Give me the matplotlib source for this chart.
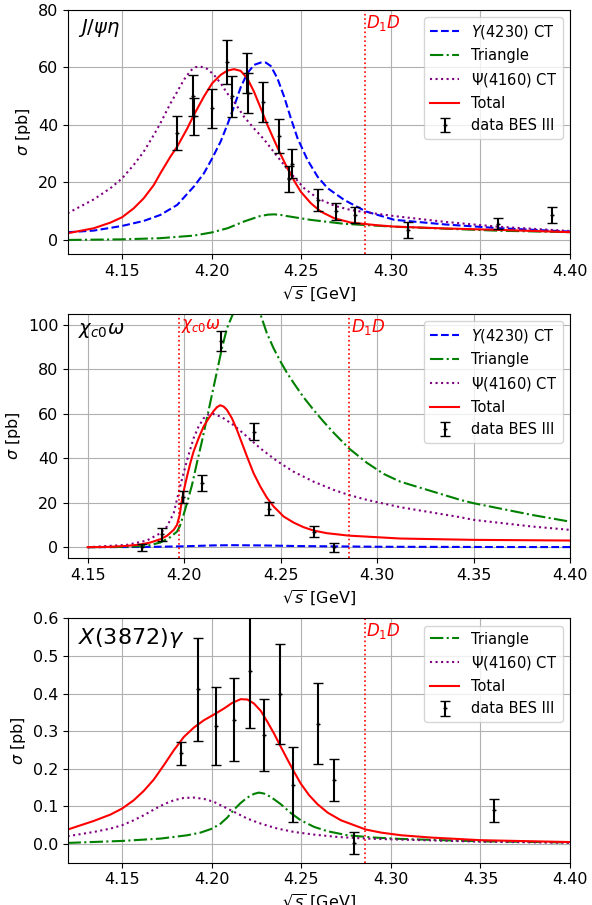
import numpy as np
import matplotlib
matplotlib.use('Agg')
import matplotlib.pyplot as plt

plt.rcParams['font.size'] = 11.5

# thresholds
m_D1D = 4.2856
m_chic0w = 4.1974

# ---- J/psi eta ----
jpe_x = [4.1808, 4.1897, 4.1900, 4.2003, 4.2083, 4.2115, 4.2195, 4.2205, 4.2289,
         4.2376, 4.2434, 4.2449, 4.2591, 4.2693, 4.2799, 4.3094, 4.3600, 4.3899]
jpe_y = [37.1, 50.2, 43.0, 45.8, 61.9, 49.9, 58.2, 51.1, 48.1,
         36.2, 21.1, 26.5, 13.9, 10.0, 8.7, 3.5, 5.6, 8.7]
jpe_err = [5.9, 7.2, 6.5, 6.7, 7.7, 7.0, 7.0, 7.0, 7.0,
           6.0, 4.5, 5.1, 3.7, 3.0, 2.7, 2.9, 1.9, 2.9]

jpe_Y_x = [4.1196, 4.1342, 4.15, 4.1621, 4.1714, 4.1808, 4.1901, 4.1957, 4.2003, 4.205,
           4.2087, 4.2125, 4.2162, 4.2199, 4.2237, 4.2274, 4.2302, 4.233, 4.2367, 4.2404,
           4.2442, 4.2479, 4.2535, 4.2591, 4.2647, 4.274, 4.2861, 4.3019, 4.33, 4.36, 4.40]
jpe_Y_y = [2.67, 3.25, 4.87, 6.61, 8.70, 12.2, 18.6, 23.2, 28.4, 34.2,
           40.0, 46.4, 53.1, 58.0, 60.9, 61.7, 61.7, 60.5, 56.2, 49.9,
           42.3, 35.4, 27.8, 22.0, 18.0, 13.9, 9.9, 7.0, 5.4, 4.1, 2.9]
jpe_tri_x = [4.12, 4.15, 4.171, 4.19, 4.20, 4.209, 4.218, 4.227, 4.2315, 4.235,
             4.2385, 4.242, 4.255, 4.274, 4.302, 4.36, 4.40]
jpe_tri_y = [0.0, 0.2, 0.6, 1.5, 2.6, 4.1, 6.4, 8.3, 8.8, 8.9,
             8.7, 8.3, 7.0, 5.6, 4.6, 3.2, 2.7]
jpe_psi_x = [4.1196, 4.1342, 4.1435, 4.15, 4.1565, 4.1621, 4.1677, 4.1714, 4.177, 4.1808,
             4.1845, 4.1882, 4.191, 4.1938, 4.1975, 4.2013, 4.205, 4.2087, 4.2125, 4.218,
             4.2236, 4.2292, 4.2367, 4.2441, 4.2516, 4.2591, 4.2684, 4.2777, 4.2861,
             4.3019, 4.33, 4.36, 4.40]
jpe_psi_y = [9.28, 14.1, 18.0, 21.4, 26.1, 30.7, 36.5, 40.6, 47.5, 51.6,
             55.7, 58.9, 60.1, 60.3, 59.5, 57.4, 54.5, 51.0, 48.1, 42.9,
             38.8, 35.0, 29.0, 23.2, 18.0, 14.5, 11.9, 10.4, 9.6,
             8.3, 6.3, 4.6, 3.1]
jpe_tot_x = [4.1196, 4.1342, 4.1435, 4.15, 4.1565, 4.1621, 4.1677, 4.1714, 4.177, 4.1808,
             4.1864, 4.1901, 4.1957, 4.2003, 4.205, 4.2087, 4.2125, 4.2162, 4.2199, 4.2236,
             4.2274, 4.2311, 4.2348, 4.2386, 4.2423, 4.246, 4.2497, 4.2553, 4.2609, 4.2684,
             4.2777, 4.2926, 4.3019, 4.33, 4.36, 4.40]
jpe_tot_y = [2.32, 4.06, 6.03, 7.88, 11.0, 14.5, 19.1, 23.2, 29.0, 32.5,
             38.8, 43.5, 49.9, 54.5, 57.4, 58.9, 59.4, 58.8, 56.2, 51.6,
             45.8, 40.0, 34.8, 29.6, 24.9, 20.6, 16.8, 12.8, 9.86, 7.54,
             6.03, 5.1, 4.64, 4.0, 3.5, 2.7]

# ---- chi_c0 omega ----
cw_x = [4.1782, 4.1887, 4.1994, 4.2094, 4.2191, 4.2360, 4.2441, 4.2675, 4.2779]
cw_y = [0.0, 5.8, 22.6, 28.9, 92.9, 52.0, 17.3, 7.0, 0.0]
cw_err = [1.6, 2.8, 2.8, 3.4, 4.5, 3.8, 2.9, 2.5, 2.1]

cw_Y_x = [4.15, 4.18, 4.20, 4.215, 4.225, 4.24, 4.26, 4.30, 4.35, 4.40]
cw_Y_y = [0.0, 0.1, 0.4, 0.8, 0.9, 0.8, 0.5, 0.2, 0.1, 0.05]
cw_tri_x = [4.15, 4.1704, 4.1807, 4.1877, 4.1928, 4.1963, 4.1977, 4.1997, 4.2015, 4.2041,
            4.2066, 4.2092, 4.2118, 4.2144, 4.217, 4.2196, 4.2222, 4.2253, 4.232,
            4.2395, 4.2429, 4.2464, 4.2498, 4.2533, 4.2567, 4.2619, 4.2671, 4.2723,
            4.2775, 4.2854, 4.2947, 4.3034, 4.312, 4.3431, 4.35, 4.3804, 4.40]
cw_tri_y = [0.0, 0.15, 0.6, 2.1, 4.5, 7.0, 9.3, 14.5, 19.8, 28.0,
            37.8, 47.5, 58.0, 68.5, 79.0, 89.5, 98.5, 105.0, 120.0,
            105.0, 96.3, 89.5, 83.8, 78.5, 74.0, 67.5, 61.8, 56.5,
            51.5, 44.5, 38.0, 33.0, 29.5, 21.3, 19.8, 14.5, 11.5]
cw_psi_x = [4.15, 4.1704, 4.1807, 4.1877, 4.1911, 4.1946, 4.1977, 4.1997, 4.2023, 4.2049,
            4.2075, 4.2101, 4.2127, 4.2144, 4.217, 4.2205, 4.2256, 4.2326, 4.2395, 4.2481,
            4.2567, 4.2671, 4.2775, 4.2854, 4.2947, 4.312, 4.3431, 4.35, 4.3804, 4.40]
cw_psi_y = [0.0, 1.05, 3.0, 6.3, 9.3, 15.3, 26.5, 33.3, 41.5, 49.0,
            54.3, 58.0, 59.8, 60.1, 59.5, 58.0, 55.0, 49.8, 44.5, 38.8,
            34.0, 29.5, 25.8, 23.5, 21.3, 18.0, 13.5, 12.3, 9.3, 7.8]
cw_tot_x = [4.15, 4.1617, 4.1704, 4.1773, 4.1825, 4.1877, 4.1911, 4.1946, 4.1963, 4.1977,
            4.1989, 4.2001, 4.2015, 4.2032, 4.2049, 4.2075, 4.2101, 4.2127, 4.2153, 4.217,
            4.2187, 4.2205, 4.2222, 4.2248, 4.2274, 4.23, 4.2326, 4.236, 4.2395, 4.2429,
            4.2464, 4.2516, 4.2567, 4.2619, 4.2671, 4.274, 4.2854, 4.2999, 4.312, 4.35, 4.40]
cw_tot_y = [0.0, 0.15, 0.6, 1.2, 2.1, 3.6, 5.1, 7.8, 10.0, 14.5,
            21.3, 26.5, 31.8, 37.8, 43.0, 49.0, 54.3, 58.0, 61.3, 63.0,
            63.9, 63.3, 61.8, 58.0, 52.8, 46.8, 40.8, 33.3, 27.3, 22.3,
            18.3, 13.8, 11.1, 9.0, 7.5, 6.3, 5.2, 4.5, 3.9, 3.3, 3.0]

# ---- X(3872) gamma ----
xg_x = [4.1830, 4.1921, 4.2026, 4.2124, 4.2214, 4.2292, 4.2380, 4.2454, 4.2594,
        4.2680, 4.2792, 4.3575]
xg_y = [0.241, 0.411, 0.313, 0.331, 0.461, 0.289, 0.400, 0.158, 0.320,
        0.169, 0.002, 0.089]
xg_err = [0.030, 0.137, 0.104, 0.110, 0.153, 0.096, 0.133, 0.100, 0.107,
          0.056, 0.030, 0.030]

xg_tri_x = [4.1196, 4.15, 4.1714, 4.1864, 4.1938, 4.2003, 4.205, 4.2087, 4.2125, 4.2162,
            4.2199, 4.2236, 4.2264, 4.2292, 4.233, 4.2386, 4.2441, 4.2497, 4.2572, 4.2647,
            4.2758, 4.2908, 4.3057, 4.35, 4.40]
xg_tri_y = [0.0027, 0.008, 0.0142, 0.0231, 0.0302, 0.0408, 0.0541, 0.0701, 0.0914, 0.1091,
            0.1233, 0.1331, 0.1366, 0.134, 0.1251, 0.1056, 0.0825, 0.063, 0.0453, 0.0337,
            0.0231, 0.0169, 0.0133, 0.007, 0.004]
xg_psi_x = [4.1196, 4.1342, 4.1435, 4.15, 4.1565, 4.1621, 4.1677, 4.1733, 4.1789, 4.1845,
            4.1901, 4.1957, 4.2013, 4.2069, 4.2125, 4.2199, 4.2274, 4.2367, 4.246, 4.2572,
            4.2702, 4.2861, 4.3057, 4.35, 4.40]
xg_psi_y = [0.0204, 0.0319, 0.0408, 0.0497, 0.063, 0.0763, 0.0914, 0.1056, 0.1162, 0.1224,
            0.1233, 0.1198, 0.1118, 0.0985, 0.0852, 0.0674, 0.0541, 0.0408, 0.0319, 0.0248,
            0.0186, 0.0142, 0.0115, 0.006, 0.003]
xg_tot_x = [4.1196, 4.1342, 4.1435, 4.15, 4.1565, 4.1621, 4.1677, 4.1733, 4.1789, 4.1845,
            4.1901, 4.1957, 4.2013, 4.2069, 4.2115, 4.2162, 4.2199, 4.2236, 4.2274, 4.2311,
            4.2348, 4.2386, 4.2423, 4.246, 4.2497, 4.2544, 4.2591, 4.2647, 4.2721, 4.2796,
            4.2861, 4.2945, 4.3057, 4.3224, 4.35, 4.40]
xg_tot_y = [0.0382, 0.0612, 0.0781, 0.0941, 0.1162, 0.1411, 0.1713, 0.2094, 0.2493, 0.2848,
            0.3097, 0.3292, 0.3443, 0.3603, 0.3753, 0.3851, 0.3842, 0.3736, 0.354, 0.3248,
            0.2937, 0.2582, 0.2245, 0.1917, 0.1606, 0.1295, 0.1056, 0.0834, 0.063, 0.0497,
            0.0382, 0.0302, 0.0231, 0.017, 0.010, 0.005]


fig = plt.figure(figsize=(5.92, 9.05), dpi=100)

left, width, height = 0.1154, 0.8475, 0.27
bottoms = [0.719, 0.3831, 0.0467]


def panel(ax, data, curves, xlim, ylim, name, name_size, thresholds):
    ax.grid(True)
    for (cx, cy, st, col, lab) in curves:
        ax.plot(cx, cy, st, color=col, lw=1.5, label=lab)
    ax.errorbar(data[0], data[1], yerr=data[2], fmt='k+', ms=3,
                elinewidth=1.5, capsize=3.5, label='data BES III')
    for (xt, lab) in thresholds:
        ax.axvline(xt, color='r', ls=':', lw=1.2)
        ax.text(xt + 0.0008, ylim[1] - 0.012 * (ylim[1] - ylim[0]), lab,
                color='r', fontsize=12, ha='left', va='top')
    ax.text(0.02, 0.97, name, transform=ax.transAxes, fontsize=name_size,
            ha='left', va='top')
    ax.set_xlim(xlim)
    ax.set_ylim(ylim)
    ax.set_xlabel(r'$\sqrt{s}$ [GeV]')
    ax.set_ylabel(r'$\sigma$ [pb]')
    ax.legend(loc='upper right', fontsize=10.5)


ax1 = fig.add_axes([left, bottoms[0], width, height])
panel(ax1, (jpe_x, jpe_y, jpe_err),
      [(jpe_Y_x, jpe_Y_y, '--', 'b', r'$Y(4230)$ CT'),
       (jpe_tri_x, jpe_tri_y, '-.', 'g', 'Triangle'),
       (jpe_psi_x, jpe_psi_y, ':', 'purple', r'$\Psi(4160)$ CT'),
       (jpe_tot_x, jpe_tot_y, '-', 'r', 'Total')],
      (4.12, 4.40), (-5, 80), r'$J/\psi\eta$', 14, [(m_D1D, r'$D_1D$')])

ax2 = fig.add_axes([left, bottoms[1], width, height])
panel(ax2, (cw_x, cw_y, cw_err),
      [(cw_Y_x, cw_Y_y, '--', 'b', r'$Y(4230)$ CT'),
       (cw_tri_x, cw_tri_y, '-.', 'g', 'Triangle'),
       (cw_psi_x, cw_psi_y, ':', 'purple', r'$\Psi(4160)$ CT'),
       (cw_tot_x, cw_tot_y, '-', 'r', 'Total')],
      (4.14, 4.40), (-5, 105), r'$\chi_{c0}\omega$', 14,
      [(m_chic0w, r'$\chi_{c0}\omega$'), (m_D1D, r'$D_1D$')])

ax3 = fig.add_axes([left, bottoms[2], width, height])
panel(ax3, (xg_x, xg_y, xg_err),
      [(xg_tri_x, xg_tri_y, '-.', 'g', 'Triangle'),
       (xg_psi_x, xg_psi_y, ':', 'purple', r'$\Psi(4160)$ CT'),
       (xg_tot_x, xg_tot_y, '-', 'r', 'Total')],
      (4.12, 4.40), (-0.05, 0.6), r'$X(3872)\gamma$', 16, [(m_D1D, r'$D_1D$')])

fig.savefig('out.png', dpi=100)
